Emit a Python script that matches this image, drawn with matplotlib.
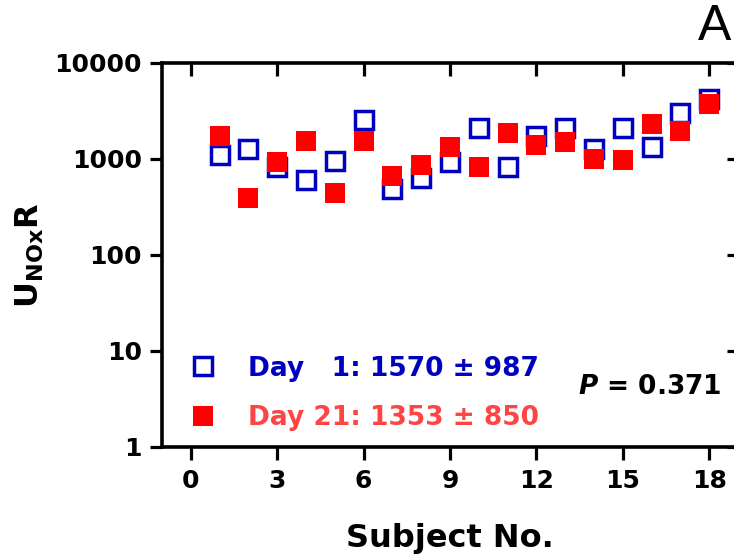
import matplotlib
matplotlib.use("Agg")
from matplotlib import pyplot as plt
from matplotlib.lines import Line2D
import numpy as np

plt.rcParams['font.family'] = ['DejaVu Sans']
plt.rcParams['mathtext.fontset'] = 'custom'
plt.rcParams['mathtext.rm'] = 'DejaVu Sans:bold'
plt.rcParams['mathtext.it'] = 'DejaVu Sans:bold:italic'
plt.rcParams['mathtext.bf'] = 'DejaVu Sans:bold'

subjects = np.arange(1, 19)
day1 = [1100, 1270, 820, 610, 945, 2530, 483, 638, 930, 2100,
        830, 1740, 2120, 1262, 2100, 1324, 3015, 4250]
day21 = [1740, 395, 930, 1550, 438, 1550, 665, 866, 1343, 820,
         1850, 1410, 1503, 993, 977, 2297, 1942, 3742]
day1_label = "Day   1: 1570 \u00b1 987"
day21_label = "Day 21: 1353 \u00b1 850"
p_label = "$P$ = 0.371"
xticks = [0, 3, 6, 9, 12, 15, 18]
yticks = [1, 10, 100, 1000, 10000]

blue = '#0000c0'
red = '#ff0000'
red_text = '#ff4444'

fig = plt.figure(figsize=(7.34, 5.6), dpi=100)
ax = fig.add_axes([162 / 734, 113 / 560, 576 / 734, 384 / 560])

ax.plot(subjects, day1, linestyle='none', marker='s', markersize=13.6,
        markerfacecolor='white', markeredgecolor=blue, markeredgewidth=2.5, zorder=3)
ax.plot(subjects, day21, linestyle='none', marker='s', markersize=14.6,
        markerfacecolor=red, markeredgewidth=0, zorder=4)

ax.set_yscale('log')
ax.set_xlim(-1, 19)
ax.set_ylim(1, 10000)
ax.set_xticks(xticks)
ax.set_xticklabels([str(t) for t in xticks])
ax.set_yticks(yticks)
ax.set_yticklabels([str(t) for t in yticks])
ax.yaxis.set_minor_locator(matplotlib.ticker.NullLocator())

for side in ['left', 'bottom', 'top']:
    ax.spines[side].set_linewidth(2.6)
ax.spines['right'].set_visible(False)

ax.tick_params(axis='both', which='major', labelsize=18, width=2.3, length=8.6, pad=6)
ax.tick_params(axis='x', top=True, length=9.5)
ax.tick_params(axis='y', right=True)
for t in ax.xaxis.get_major_ticks():
    t.tick2line.set_marker(matplotlib.lines.TICKDOWN)
    t.tick2line.set_markersize(9.5)
for t in ax.yaxis.get_major_ticks():
    t.tick2line.set_marker(matplotlib.lines.TICKLEFT)
    t.tick2line.set_markersize(8)
for lab in ax.get_xticklabels() + ax.get_yticklabels():
    lab.set_fontweight('bold')

ax.set_xlabel('Subject No.', fontsize=23, fontweight='bold', labelpad=22)
ax.set_ylabel(r'U$_{\mathrm{NOx}}$R', fontsize=23, fontweight='bold', labelpad=6)

handles = [
    Line2D([], [], linestyle='none', marker='s', markersize=13.6,
           markerfacecolor='white', markeredgecolor=blue, markeredgewidth=2.5),
    Line2D([], [], linestyle='none', marker='s', markersize=14.6,
           markerfacecolor=red, markeredgewidth=0),
]
leg = ax.legend(handles, [day1_label, day21_label], loc='upper left',
                bbox_to_anchor=(0.048, 0.238), frameon=False, borderpad=0,
                borderaxespad=0, handlelength=1.0, handletextpad=1.2,
                labelspacing=0.9, prop={'size': 19, 'weight': 'bold'},
                labelcolor=[blue, red_text])

ax.text(0.9705, 0.156, p_label, transform=ax.transAxes, ha='right', va='center',
        fontsize=19, fontweight='bold')

fig.text(715 / 734, 1 - 27 / 560, 'A', ha='center', va='center',
         fontsize=36, family='Liberation Sans')

fig.savefig('out.png', dpi=100)
